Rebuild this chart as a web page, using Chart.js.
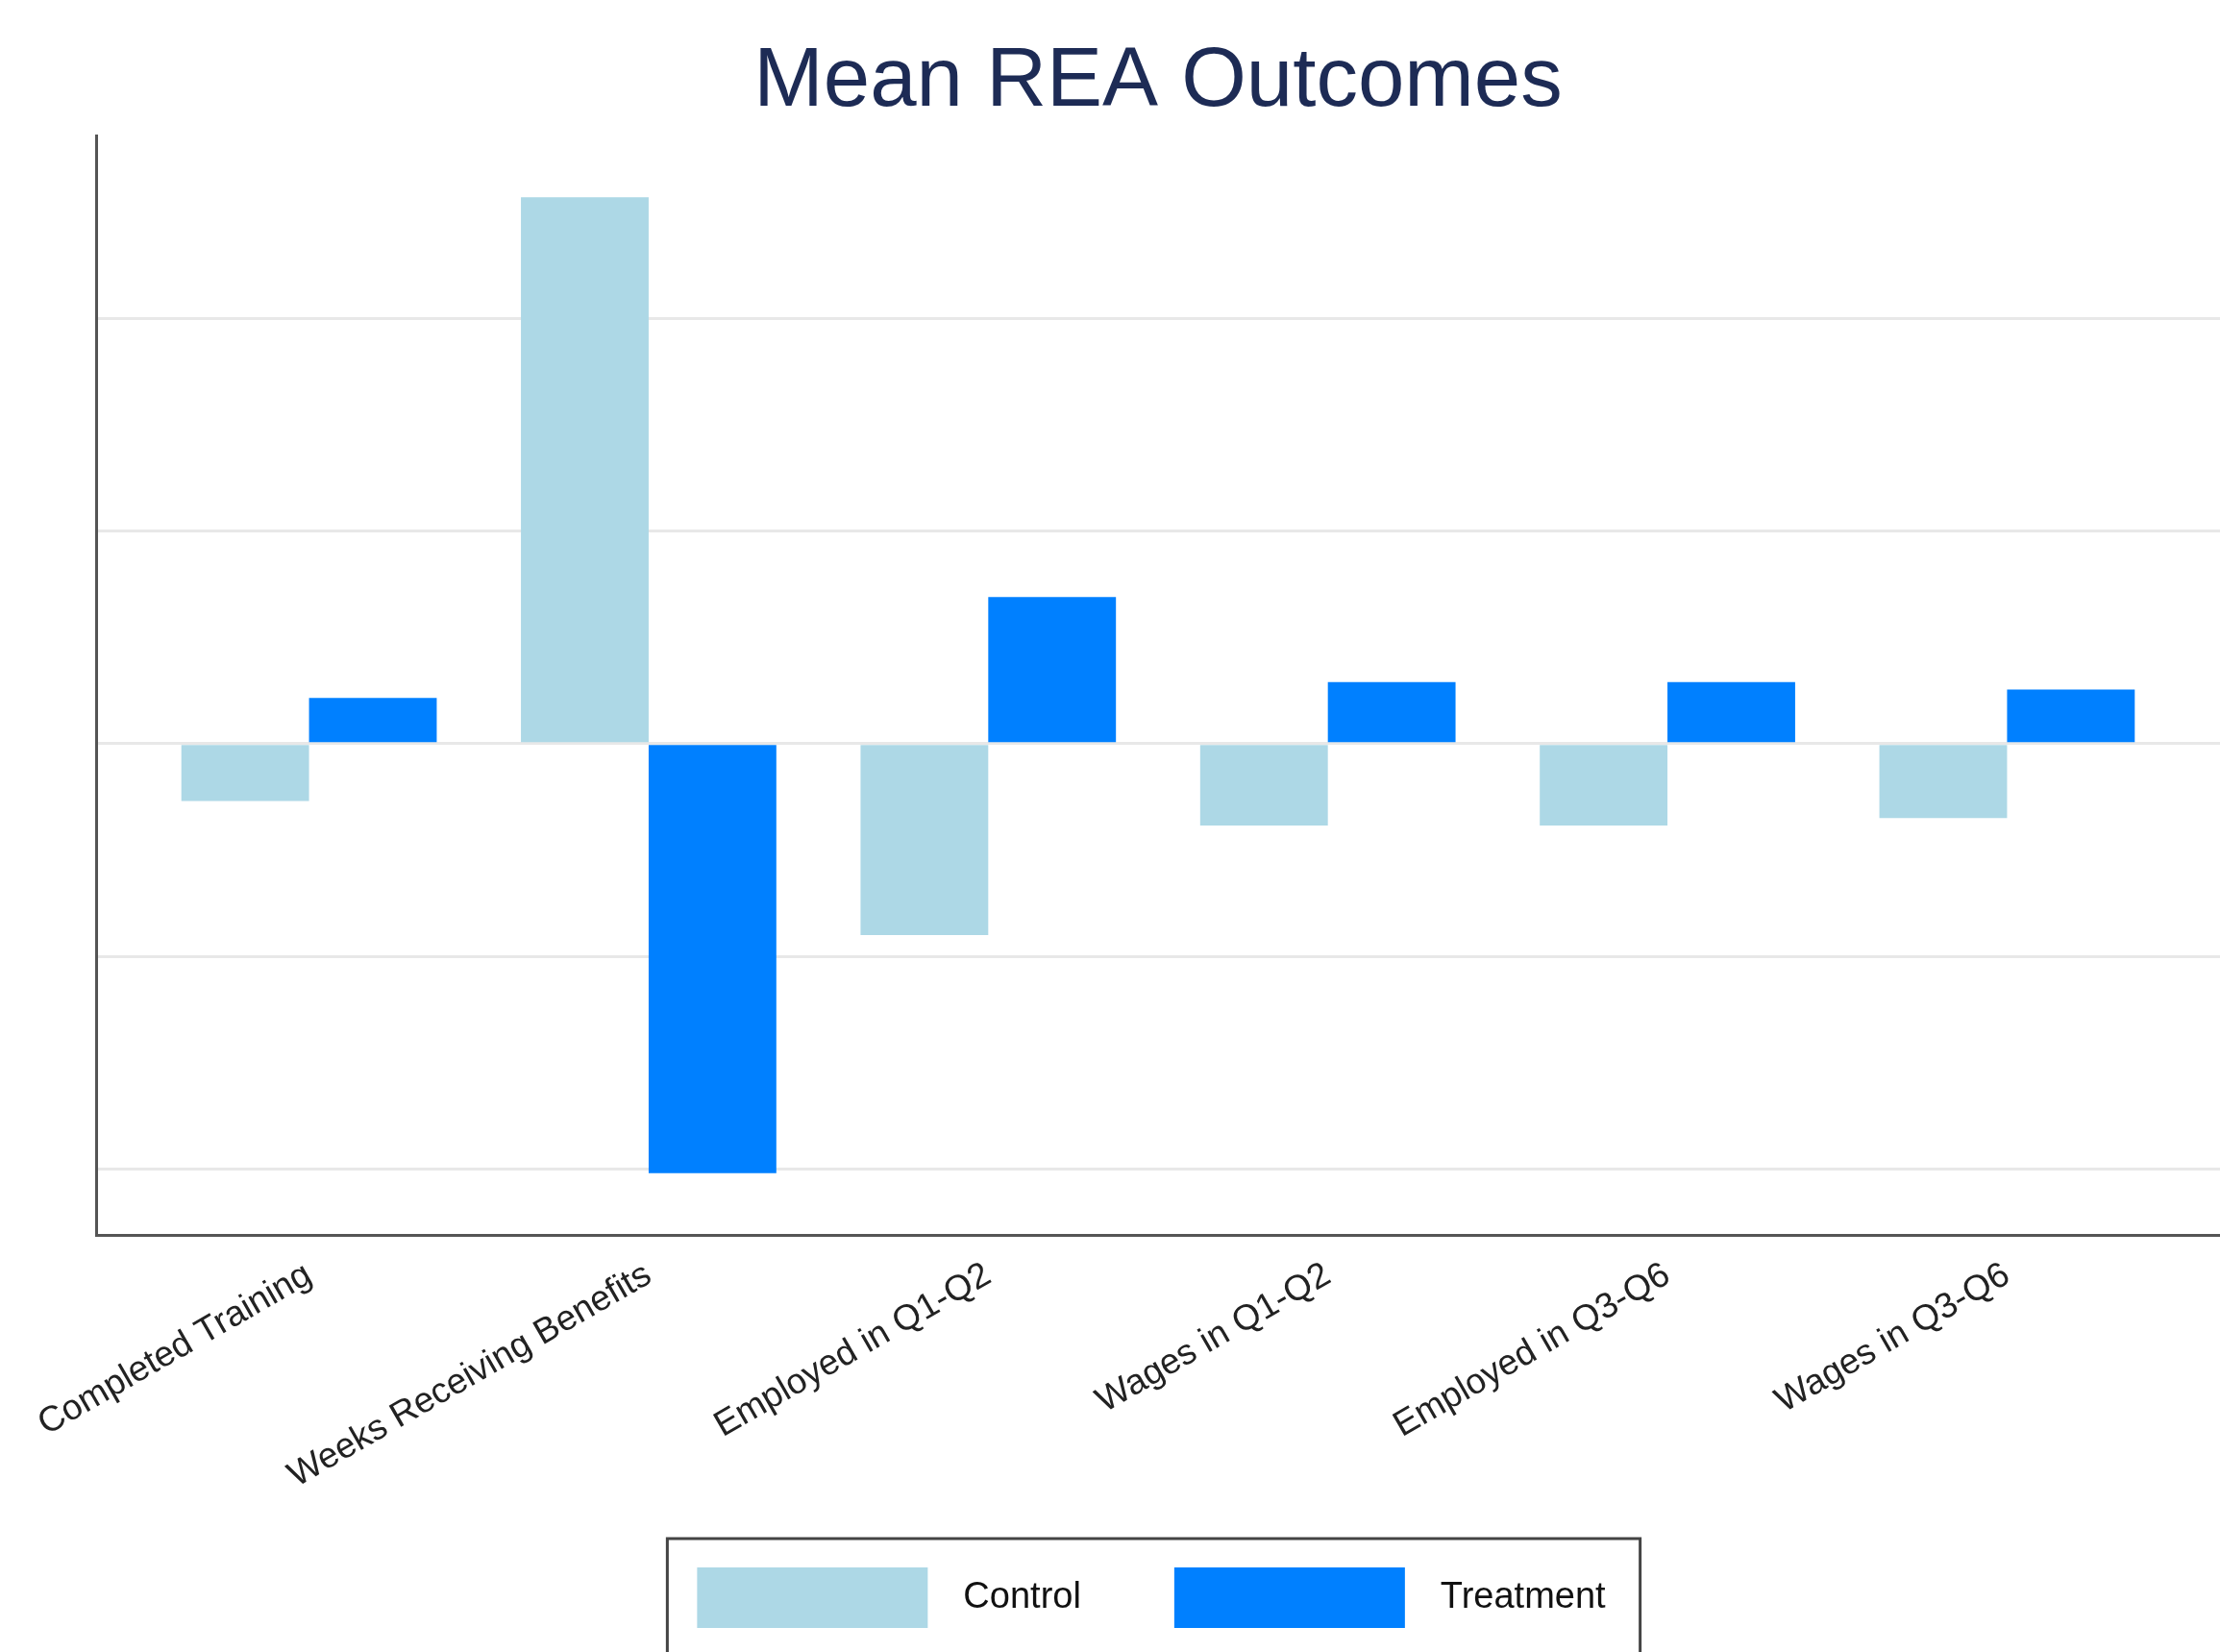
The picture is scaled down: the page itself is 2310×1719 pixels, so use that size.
<!DOCTYPE html>
<html lang="en">
<head>
<meta charset="utf-8">
<title>Mean REA Outcomes</title>
<script src="https://cdn.jsdelivr.net/npm/chart.js@4.4.0/dist/chart.umd.min.js"></script>
<style>
  html, body { margin: 0; padding: 0; background: #fff; overflow: hidden; }
  #chart { display: block; }
</style>
</head>
<body>
<canvas id="chart" width="2410" height="1760"></canvas>
<script>
// outcome categories along the x axis
const outcomes = ['Completed Training', 'Weeks Receiving Benefits', 'Employed in Q1-Q2',
                  'Wages in Q1-Q2', 'Employed in Q3-Q6', 'Wages in Q3-Q6'];
// group means (grid lines sit at whole units)
const controlMeans   = [-0.27, 2.57, -0.90, -0.385, -0.385, -0.35];
const treatmentMeans = [0.215, -2.02, 0.69, 0.29, 0.29, 0.255];
const gridValues = [-2, -1, 0, 1, 2];
const seriesNames = ['Control', 'Treatment'];

const FONT = '"Liberation Sans", Arial, Helvetica, sans-serif';

// x is a linear index axis so the plot keeps the wider side margins of the original
const toPoints = vals => vals.map((v, i) => ({ x: i, y: v }));

// boxed key like the original; also let the rotated labels run past the axis box
const legendFrame = {
  id: 'legendFrame',
  afterLayout(chart) {
    // the key sits a little left of the title centre in the original
    chart.legend.left -= 16;
    chart.legend.right -= 16;
  },
  beforeDraw(chart) {
    chart.scales.x.bottom = chart.height;
  },
  afterDraw(chart) {
    const boxes = chart.legend.legendHitBoxes;
    if (!boxes || !boxes.length) return;
    const first = boxes[0], last = boxes[boxes.length - 1];
    const left = first.left - 13, right = last.left + last.width + 36;
    const ctx = chart.ctx;
    ctx.save();
    ctx.strokeStyle = '#444';
    ctx.lineWidth = 3;
    ctx.strokeRect(left, first.top - 12, right - left, 123);
    ctx.restore();
  }
};

new Chart(document.getElementById('chart'), {
  type: 'bar',
  data: {
    datasets: [{
      label: seriesNames[0],
      data: toPoints(controlMeans),
      backgroundColor: '#add8e6',
      borderWidth: 0
    }, {
      label: seriesNames[1],
      data: toPoints(treatmentMeans),
      backgroundColor: '#0080ff',
      borderWidth: 0
    }]
  },
  options: {
    responsive: false,
    animation: false,
    categoryPercentage: 0.752,
    barPercentage: 1.0,
    layout: { padding: { left: 100, right: 100, top: 0, bottom: 38 } },
    plugins: {
      title: {
        display: true,
        text: 'Mean REA Outcomes',
        color: '#1d2b55',
        font: { family: FONT, size: 87, weight: 'normal' },
        padding: { top: 34, bottom: 3 }
      },
      legend: {
        position: 'bottom',
        labels: {
          // white edge trims the swatch to 240x63 and opens the gap before the text
          boxWidth: 276,
          boxHeight: 99,
          padding: 79,
          color: '#111',
          font: { family: FONT, size: 38 },
          generateLabels: chart => Chart.defaults.plugins.legend.labels.generateLabels(chart)
            .map(item => ({ ...item, strokeStyle: '#ffffff', lineWidth: 36 }))
        }
      },
      tooltip: { enabled: false }
    },
    scales: {
      x: {
        type: 'linear',
        offset: false,
        min: -0.627,
        max: 5.627,
        grid: { display: false, drawTicks: false },
        border: { display: true, color: '#555', width: 3 },
        afterBuildTicks: scale => { scale.ticks = outcomes.map((_, i) => ({ value: i })); },
        afterFit: scale => { scale.height = 249; scale.paddingLeft = 0; scale.paddingRight = 0; },
        ticks: {
          autoSkip: false,
          minRotation: 30,
          maxRotation: 30,
          padding: 20,
          color: '#222',
          font: { family: FONT, size: 37 },
          callback: v => outcomes[v]
        }
      },
      y: {
        min: -2.311,
        max: 2.859,
        afterBuildTicks: scale => { scale.ticks = gridValues.map(v => ({ value: v })); },
        afterFit: scale => { scale.width = 0; },
        grid: { color: '#e8e8e8', lineWidth: 3, drawTicks: false },
        border: { display: true, color: '#555', width: 3 },
        ticks: { display: false }
      }
    }
  },
  plugins: [legendFrame]
});
</script>
</body>
</html>
